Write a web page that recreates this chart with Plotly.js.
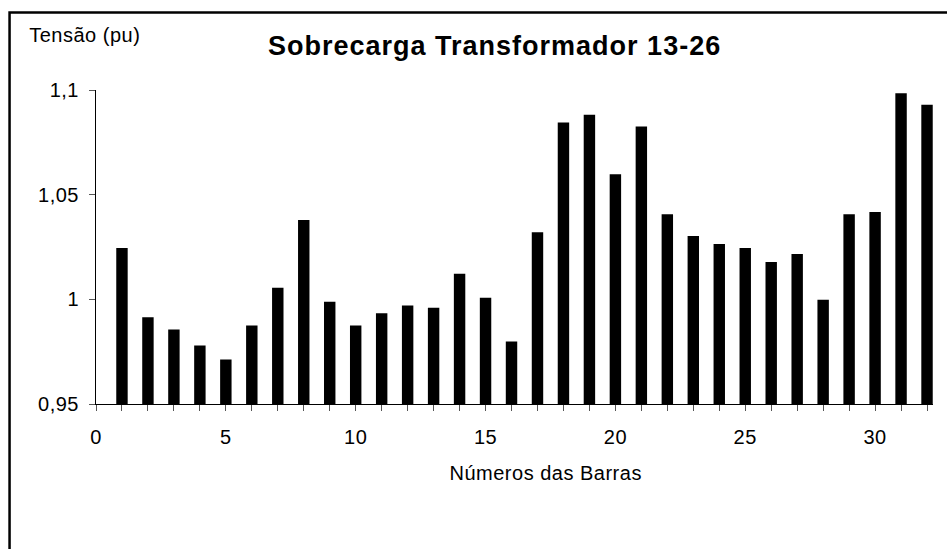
<!DOCTYPE html>
<html>
<head>
<meta charset="utf-8">
<script src="https://cdn.plot.ly/plotly-3.0.1.min.js"></script>
<style>
  html, body { margin: 0; padding: 0; background: #fff; }
  #chart { width: 947px; height: 549px; }
  #chart text { letter-spacing: 0.5px; }
  #chart .annotation[data-index="0"] text { letter-spacing: 1px; }
</style>
</head>
<body>
<div id="chart"></div>
<script>
// ---- data ----
const barNumbers = [1,2,3,4,5,6,7,8,9,10,11,12,13,14,15,16,17,18,19,20,21,22,23,24,25,26,27,28,29,30,31,32];
const voltages = [1.0245, 0.9914, 0.9856, 0.9780, 0.9713, 0.9875, 1.0055, 1.0379, 0.9989, 0.9875,
                  0.9933, 0.9971, 0.9960, 1.0122, 1.0008, 0.9799, 1.0321, 1.0845, 1.0882, 1.0598,
                  1.0826, 1.0407, 1.0302, 1.0264, 1.0245, 1.0178, 1.0216, 0.9998, 1.0407, 1.0417,
                  1.0985, 1.0929];
const yTickVals = [0.95, 1, 1.05, 1.1];
const yTickText = ['0,95', '1', '1,05', '1,1'];
const xTickVals = [0, 5, 10, 15, 20, 25, 30];
const xTickText = ['0', '5', '10', '15', '20', '25', '30'];
const titleText = 'Sobrecarga Transformador 13-26';
const yTitleText = 'Tensão (pu)';
const xTitleText = 'Números das Barras';

// ---- layout helpers (pixel -> paper) ----
const W = 947, H = 549;
const M = {l: 96, r: 13.5, t: 90, b: 144.7};
const PW = W - M.l - M.r, PH = H - M.t - M.b;
const px = x => (x - M.l) / PW;
const py = y => (H - M.b - y) / PH;

const FONT = 'Liberation Sans, Arial, sans-serif';

const trace = {
  type: 'bar',
  x: barNumbers,
  y: voltages,
  width: 0.44,
  marker: {color: '#000000', line: {width: 0}},
  hoverinfo: 'x+y'
};

const layout = {
  width: W, height: H,
  margin: {l: M.l, r: M.r, t: M.t, b: M.b, pad: 0},
  paper_bgcolor: '#ffffff',
  plot_bgcolor: '#ffffff',
  showlegend: false,
  separators: ',.',
  font: {family: FONT, color: '#000', size: 20},
  xaxis: {
    range: [0, 32.23],
    tickmode: 'array', tickvals: xTickVals, ticktext: xTickText,
    ticks: 'outside', ticklen: 6, tickwidth: 1, tickcolor: '#555',
    minor: {dtick: 1, tick0: 0, ticks: 'outside', ticklen: 6, tickwidth: 1, tickcolor: '#555', showgrid: false},
    ticklabelstandoff: 9,
    showline: true, linecolor: '#000', linewidth: 1,
    showgrid: false, zeroline: false,
    tickfont: {family: FONT, size: 20, color: '#000'},
    fixedrange: true
  },
  yaxis: {
    range: [0.95, 1.1],
    tickmode: 'array', tickvals: yTickVals, ticktext: yTickText,
    ticks: 'outside', ticklen: 6, tickwidth: 1, tickcolor: '#555',
    ticklabelstandoff: 6,
    showline: true, linecolor: '#000', linewidth: 1,
    showgrid: false, zeroline: false,
    tickfont: {family: FONT, size: 20, color: '#000'},
    fixedrange: true
  },
  annotations: [
    {text: '<b>' + titleText + '</b>', xref: 'paper', yref: 'paper',
     x: px(494.5), y: py(46), xanchor: 'center', yanchor: 'middle',
     showarrow: false, font: {family: FONT, size: 27, color: '#000'}},
    {text: yTitleText, xref: 'paper', yref: 'paper',
     x: px(29.5), y: py(34.5), xanchor: 'left', yanchor: 'middle',
     showarrow: false, font: {family: FONT, size: 20, color: '#000'}},
    {text: xTitleText, xref: 'paper', yref: 'paper',
     x: px(546), y: py(473), xanchor: 'center', yanchor: 'middle',
     showarrow: false, font: {family: FONT, size: 20, color: '#000'}}
  ],
  shapes: [
    {type: 'rect', xref: 'paper', yref: 'paper', layer: 'above',
     x0: px(9.5), x1: px(990), y0: py(600), y1: py(12.5),
     line: {color: '#000', width: 2.5}, fillcolor: 'rgba(0,0,0,0)'}
  ]
};

Plotly.newPlot('chart', [trace], layout, {displayModeBar: false, staticPlot: true});
</script>
</body>
</html>
